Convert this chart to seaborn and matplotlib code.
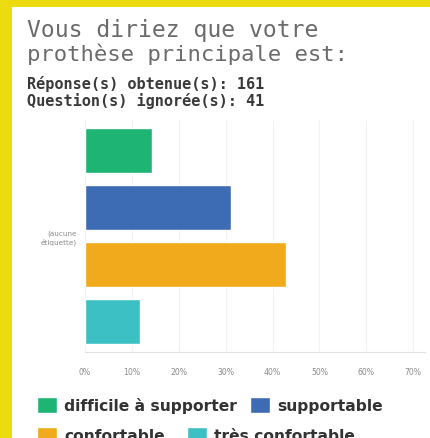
import matplotlib
matplotlib.use("Agg")
import matplotlib.pyplot as plt
from matplotlib.patches import Rectangle
import seaborn as sns
import pandas as pd

# Survey answers (share of the 161 responses, in %)
responses = ["difficile à supporter", "supportable", "confortable", "très confortable"]
percent = [14.3, 31.1, 42.9, 11.8]
group_label = "(aucune\nétiquette)"
colors = ["#1eb574", "#3e6cb4", "#f0aa1b", "#3cc0c4"]
tick_values = [0, 10, 20, 30, 40, 50, 60, 70]
tick_labels = ["0%", "10%", "20%", "30%", "40%", "50%", "60%", "70%"]

title_lines = ["Vous diriez que votre", "prothèse principale est:"]
answered = "Réponse(s) obtenue(s): 161"
skipped = "Question(s) ignorée(s): 41"

df = pd.DataFrame({"groupe": [group_label] * len(responses),
                   "réponse": responses,
                   "pourcentage": percent})

sns.set_theme(style="white")
W, H = 430, 439
fig = plt.figure(figsize=(W / 100, H / 100), dpi=100, facecolor="#ecdc0f")
# white card inside the yellow frame
fig.patches.append(Rectangle((12 / W, 0), 1 - 12 / W, 1 - 8 / H,
                             transform=fig.transFigure, facecolor="white",
                             edgecolor="none", zorder=-5))

ax = fig.add_axes([85 / W, 1 - 353 / H, 340 / W, 232 / H])
ax.set_facecolor("none")
ax.set_zorder(2)
sns.barplot(data=df, x="pourcentage", y="groupe", hue="réponse",
            hue_order=responses, palette=colors, orient="h",
            width=0.8, gap=0.21, saturation=1, ax=ax)
handles, labels = ax.get_legend_handles_labels()
ax.get_legend().remove()

ax.set_xlim(0, 72.5)
ax.set_ylim(0.407, -0.407)
ax.set_xticks(tick_values)
ax.set_xticklabels(tick_labels)
ax.set_xlabel("")
ax.set_ylabel("")
ax.tick_params(axis="x", length=0, labelsize=5.6, labelcolor="#8a8a8a", pad=11)
ax.tick_params(axis="y", length=0, labelsize=5.2, labelcolor="#8a8a8a", pad=6)
ax.grid(axis="x", color="#f2f2f2", linewidth=0.8)
ax.set_axisbelow(True)
for side in ["left", "right", "top"]:
    ax.spines[side].set_visible(False)
ax.spines["bottom"].set_color("#e2e2e2")
ax.spines["bottom"].set_linewidth(0.8)

# heading
fig.text(27 / W, 1 - 31 / H, title_lines[0], family="DejaVu Sans Mono",
         fontsize=16.6, color="#6b6b6b", va="center", ha="left")
fig.text(27 / W, 1 - 54 / H, title_lines[1], family="DejaVu Sans Mono",
         fontsize=16.0, color="#6b6b6b", va="center", ha="left")
fig.text(27 / W, 1 - 84 / H, answered, family="DejaVu Sans Mono",
         fontsize=11, fontweight="bold", color="#3a3a3a", va="center", ha="left")
fig.text(27 / W, 1 - 101 / H, skipped, family="DejaVu Sans Mono",
         fontsize=11, fontweight="bold", color="#3a3a3a", va="center", ha="left")

# legend entries laid out in a flowing two-row arrangement
legend_pos = [(37, 406), (250, 406), (37, 436), (187, 436)]
for h, lab, (px, py) in zip(handles, labels, legend_pos):
    fig.legend([h], [lab], loc="center left",
               bbox_to_anchor=(px / W, 1 - py / H),
               bbox_transform=fig.transFigure, frameon=False,
               handlelength=1.3, handleheight=1.2,
               handletextpad=0.45, borderpad=0, borderaxespad=0,
               prop={"weight": "bold", "size": 11.2},
               labelcolor="#333333")

fig.savefig("out.png", dpi=100, facecolor=fig.get_facecolor())
